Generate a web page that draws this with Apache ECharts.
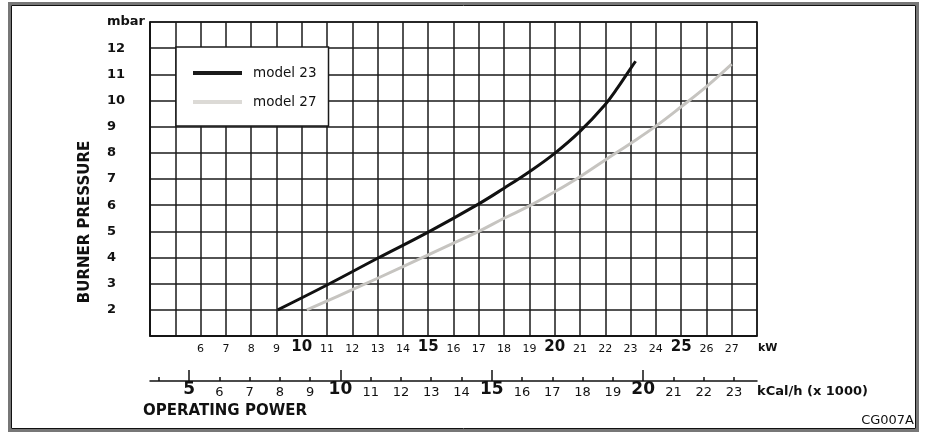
<!DOCTYPE html>
<html>
<head>
<meta charset="utf-8">
<script src="https://cdn.jsdelivr.net/npm/echarts@6/dist/echarts.min.js"></script>
<style>
  html, body { margin: 0; padding: 0; background: #fff; }
  #chart { width: 925px; height: 433px; }
</style>
</head>
<body>
<div id="chart"></div>
<script>
// model 23 curve (kW, mbar)
var kw23 = [9.05, 11, 13, 15, 17, 18, 19, 20, 21, 22, 22.5, 23, 23.2];
var p23 = [2.0, 2.95, 3.97, 4.97, 6.05, 6.65, 7.28, 7.98, 8.82, 9.85, 10.5, 11.22, 11.5];
// model 27 curve
var kw27 = [10.2, 12, 14, 16, 17, 18, 19, 20, 21, 22, 23, 24, 25, 26, 27];
var p27 = [2.0, 2.77, 3.65, 4.55, 5.0, 5.5, 5.97, 6.51, 7.09, 7.73, 8.36, 9.02, 9.76, 10.53, 11.39];

// tick labels
var kwLabels = [6, 7, 8, 9, 10, 11, 12, 13, 14, 15, 16, 17, 18, 19, 20, 21, 22, 23, 24, 25, 26, 27];
var kcalTicks = [4, 5, 6, 7, 8, 9, 10, 11, 12, 13, 14, 15, 16, 17, 18, 19, 20, 21, 22, 23];
var kcalLabels = [5, 6, 7, 8, 9, 10, 11, 12, 13, 14, 15, 16, 17, 18, 19, 20, 21, 22, 23];
var kcalMajor = [5, 10, 15, 20];
var pressureLabels = [2, 3, 4, 5, 6, 7, 8, 9, 10, 11, 12];

function pairs(xs, ys) {
  var out = [];
  for (var i = 0; i < xs.length; i++) out.push([xs[i], ys[i]]);
  return out;
}

var FONT = 'DejaVu Sans';
var INK = '#111';

var chart = echarts.init(document.getElementById('chart'));
var option = {
  animation: false,
  backgroundColor: '#fff',
  grid: {
    left: 150, right: 168, top: 22, bottom: 97,
    show: true, borderColor: '#1a1a1a', borderWidth: 1.5
  },
  legend: {
    orient: 'vertical',
    left: 176, top: 47,
    padding: [18, 12, 16, 17],
    backgroundColor: '#fff',
    borderColor: '#1a1a1a',
    borderWidth: 1.5,
    itemWidth: 49,
    itemHeight: 4,
    itemGap: 13,
    icon: 'rect',
    textStyle: { fontFamily: FONT, fontSize: 13.5, color: INK, lineHeight: 16, padding: [0, 0, 0, 6] },
    data: [
      { name: 'model 23', itemStyle: { color: '#1a1a1a' } },
      { name: 'model 27', itemStyle: { color: '#dcdad6' } }
    ]
  },
  xAxis: [
    {
      type: 'value', min: 4, max: 28, interval: 1, position: 'bottom',
      axisLine: { show: true, lineStyle: { color: INK, width: 1.5 } },
      axisTick: { show: false },
      splitLine: { show: true, lineStyle: { color: '#1a1a1a', width: 1.5 } },
      axisLabel: {
        margin: 13, verticalAlign: 'middle',
        formatter: function (v) {
          if (kwLabels.indexOf(v) < 0) return '';
          return v % 5 === 0 ? '{b|' + v + '}' : '{s|' + v + '}';
        },
        rich: {
          b: { fontFamily: FONT, fontWeight: 'bold', fontSize: 15, color: INK, padding: [0, 0, 3, 0] },
          s: { fontFamily: FONT, fontSize: 11, color: INK }
        }
      },
      name: 'kW', nameLocation: 'end', nameGap: 1, nameMoveOverlap: false,
      nameTextStyle: { fontFamily: FONT, fontWeight: 'bold', fontSize: 11, color: INK, verticalAlign: 'top', padding: [7, 0, 0, 0] }
    },
    {
      type: 'value', min: 3.71, max: 23.76, position: 'bottom', offset: 45,
      axisLine: { show: true, lineStyle: { color: INK, width: 1.5 } },
      axisTick: { show: true, inside: true, length: 4, customValues: kcalTicks, lineStyle: { color: INK, width: 1.5 } },
      splitLine: { show: false },
      axisLabel: {
        margin: 11.5, verticalAlign: 'middle',
        customValues: kcalLabels,
        formatter: function (v) {
          return kcalMajor.indexOf(v) >= 0 ? '{b|' + v + '}' : '{s|' + v + '}';
        },
        rich: {
          b: { fontFamily: FONT, fontWeight: 'bold', fontSize: 17, color: INK, padding: [0, 0, 5, 0] },
          s: { fontFamily: FONT, fontSize: 13, color: INK }
        }
      },
      name: 'kCal/h (x 1000)', nameLocation: 'end', nameGap: 0, nameMoveOverlap: false,
      nameTextStyle: { fontFamily: FONT, fontWeight: 'bold', fontSize: 13, color: INK, verticalAlign: 'top', padding: [4, 0, 0, 0] }
    },
    {
      type: 'value', min: 3.71, max: 23.76, position: 'bottom', offset: 45,
      axisLine: { show: false },
      axisTick: { show: true, inside: true, length: 11, customValues: kcalMajor, lineStyle: { color: INK, width: 1.5 } },
      splitLine: { show: false },
      axisLabel: { show: false }
    }
  ],
  yAxis: {
    type: 'value', min: 1, max: 13, interval: 1,
    axisLine: { show: true, lineStyle: { color: INK, width: 1.5 } },
    axisTick: { show: false },
    splitLine: { show: true, lineStyle: { color: '#1a1a1a', width: 1.5 } },
    axisLabel: {
      align: 'left', margin: 43,
      fontFamily: FONT, fontWeight: 'bold', fontSize: 13, color: INK,
      formatter: function (v) {
        if (v === 13) return 'mbar';
        return pressureLabels.indexOf(v) >= 0 ? String(v) : '';
      }
    },
    name: 'BURNER PRESSURE', nameLocation: 'middle', nameRotate: 90, nameGap: 57,
    nameTextStyle: { fontFamily: FONT, fontWeight: 'bold', fontSize: 15, color: INK, padding: [0, 86, 0, 0] }
  },
  series: [
    {
      name: 'model 23', type: 'line', xAxisIndex: 0, smooth: 0.4, showSymbol: false,
      lineStyle: { color: '#111', width: 3, cap: 'butt' },
      itemStyle: { color: '#111' },
      data: pairs(kw23, p23)
    },
    {
      name: 'model 27', type: 'line', xAxisIndex: 0, smooth: 0.4, showSymbol: false,
      lineStyle: { color: '#c6c4c0', width: 3, cap: 'butt' },
      itemStyle: { color: '#c6c4c0' },
      data: pairs(kw27, p27)
    }
  ],
  graphic: [
    { type: 'rect', shape: { x: 9.5, y: 3.5, width: 908, height: 427 }, style: { fill: 'none', stroke: '#777', lineWidth: 3 }, silent: true },
    { type: 'rect', shape: { x: 11.5, y: 5.5, width: 904, height: 423 }, style: { fill: 'none', stroke: '#111', lineWidth: 1 }, silent: true },
    { type: 'text', x: 143, y: 411, style: { text: 'OPERATING POWER', font: 'bold 15px "DejaVu Sans"', fill: INK, align: 'left', verticalAlign: 'middle' } },
    { type: 'text', x: 914, y: 421, style: { text: 'CG007A', font: '13px "DejaVu Sans"', fill: INK, align: 'right', verticalAlign: 'middle' } }
  ]
};
chart.setOption(option);
</script>
</body>
</html>
